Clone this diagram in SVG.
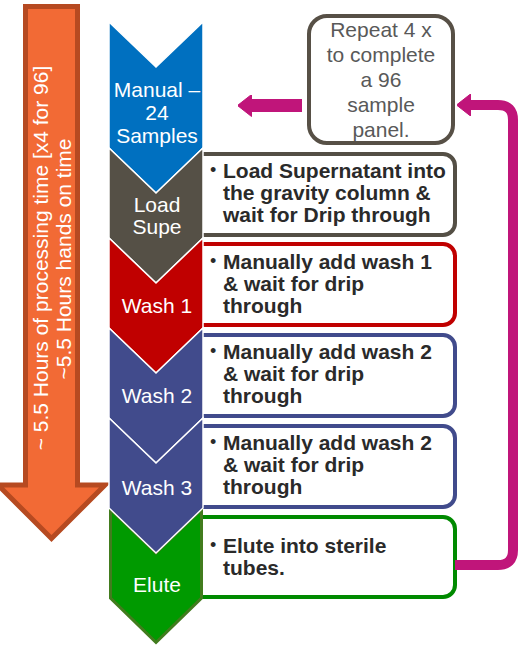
<svg xmlns="http://www.w3.org/2000/svg" width="525" height="649" viewBox="0 0 525 649">
<defs>
<style>
.box{fill:#fff;stroke-width:4}
.chev{stroke:#fff;stroke-width:1.5}
.lbl{font-family:"Liberation Sans",Arial,sans-serif;font-size:21px;fill:#fff;text-anchor:middle}
.bt{font-family:"Liberation Sans",Arial,sans-serif;font-size:21px;font-weight:bold;fill:#2a2a2a}
.bul{font-family:"Liberation Sans",Arial,sans-serif;font-size:18px;fill:#2a2a2a}
.rep{font-family:"Liberation Sans",Arial,sans-serif;font-size:21px;fill:#595959;text-anchor:middle}
.ot{font-family:"Liberation Sans",Arial,sans-serif;font-size:21px;fill:#fff;text-anchor:middle}
.conn{fill:none;stroke:#C0157A}
</style>
<marker id="ah" markerUnits="userSpaceOnUse" viewBox="0 0 14 22" markerWidth="14" markerHeight="22" refX="0.5" refY="11" orient="auto">
<path d="M0,0 L14,11 L0,22 Z" fill="#C0157A" stroke="#C0157A" stroke-width="1" stroke-linejoin="round"/>
</marker>
</defs>

<g id="time-arrow">
<path d="M25.5,6.5 H77.5 V485 H105 L51.5,538.5 L-2,485 H25.5 Z" fill="#F26A35" stroke="#B64A21" stroke-width="5"/>
<text class="ot" transform="translate(48,258) rotate(-90)">~ 5.5 Hours of processing time [x4 for 96]</text>
<text class="ot" transform="translate(71,259) rotate(-90)">~5.5 Hours hands on time</text>
</g>

<g id="box-load">
<rect class="box" x="170" y="154" width="285" height="81" rx="12" stroke="#544F45"/>
<text class="bul" x="210" y="176">•</text>
<text class="bt" x="223"><tspan x="223" y="178">Load Supernatant into</tspan><tspan x="223" y="200">the gravity column &amp;</tspan><tspan x="223" y="222">wait for Drip through</tspan></text>
</g>
<g id="box-wash1">
<rect class="box" x="170" y="244" width="285" height="81" rx="12" stroke="#C00000"/>
<text class="bul" x="210" y="267">•</text>
<text class="bt"><tspan x="223" y="269">Manually add wash 1</tspan><tspan x="223" y="291">&amp; wait for drip</tspan><tspan x="223" y="313">through</tspan></text>
</g>
<g id="box-wash2">
<rect class="box" x="170" y="335" width="285" height="81" rx="12" stroke="#414B8C"/>
<text class="bul" x="210" y="357">•</text>
<text class="bt"><tspan x="223" y="359">Manually add wash 2</tspan><tspan x="223" y="381">&amp; wait for drip</tspan><tspan x="223" y="403">through</tspan></text>
</g>
<g id="box-wash3">
<rect class="box" x="170" y="426" width="285" height="81" rx="12" stroke="#414B8C"/>
<text class="bul" x="210" y="448">•</text>
<text class="bt"><tspan x="223" y="450">Manually add wash 2</tspan><tspan x="223" y="472">&amp; wait for drip</tspan><tspan x="223" y="494">through</tspan></text>
</g>
<g id="box-elute">
<rect class="box" x="170" y="517" width="285" height="80" rx="12" stroke="#008A00"/>
<text class="bul" x="210" y="551">•</text>
<text class="bt"><tspan x="223" y="553">Elute into sterile</tspan><tspan x="223" y="575">tubes.</tspan></text>
</g>

<g id="chev-manual">
<path class="chev" d="M109,22 L156,67 L203,22 L203,148 L156,193 L109,148 Z" fill="#0070C0"/>
<text class="lbl"><tspan x="157" y="97">Manual –</tspan><tspan x="157" y="120">24</tspan><tspan x="157" y="143">Samples</tspan></text>
</g>
<g id="chev-load">
<path class="chev" d="M109,148 L156,193 L203,148 L203,238 L156,283 L109,238 Z" fill="#555046"/>
<text class="lbl"><tspan x="157" y="212">Load</tspan><tspan x="157" y="234">Supe</tspan></text>
</g>
<g id="chev-wash1">
<path class="chev" d="M109,238 L156,283 L203,238 L203,328 L156,373 L109,328 Z" fill="#C00000"/>
<text class="lbl" x="157" y="313">Wash 1</text>
</g>
<g id="chev-wash2">
<path class="chev" d="M109,328 L156,373 L203,328 L203,418 L156,463 L109,418 Z" fill="#414B8C"/>
<text class="lbl" x="157" y="403">Wash 2</text>
</g>
<g id="chev-elute">
<path d="M110.5,509.5 L156,553 L201.5,509.5 L201.5,598 L156,642.5 L110.5,598 Z" fill="#009A00" stroke="#427C1E" stroke-width="3"/>
<text class="lbl" x="157" y="592">Elute</text>
</g>
<g id="chev-wash3">
<path class="chev" d="M109,418 L156,463 L203,418 L203,508 L156,553 L109,508 Z" fill="#414B8C"/>
<text class="lbl" x="157" y="495">Wash 3</text>
</g>

<g id="repeat">
<rect x="309" y="16" width="144" height="127" rx="18" fill="#fff" stroke="#575046" stroke-width="4"/>
<text class="rep"><tspan x="381" y="37">Repeat 4 x</tspan><tspan x="381" y="62">to complete</tspan><tspan x="381" y="87">a 96</tspan><tspan x="381" y="112">sample</tspan><tspan x="381" y="137">panel.</tspan></text>
</g>

<g id="connectors">
<path class="conn" d="M302,105.5 H251" stroke-width="13" marker-end="url(#ah)"/>
<path class="conn" d="M455,565 H498 Q513,565 513,550 V120 Q513,105 498,105 H470" stroke-width="10" marker-end="url(#ah)"/>
</g>
</svg>
